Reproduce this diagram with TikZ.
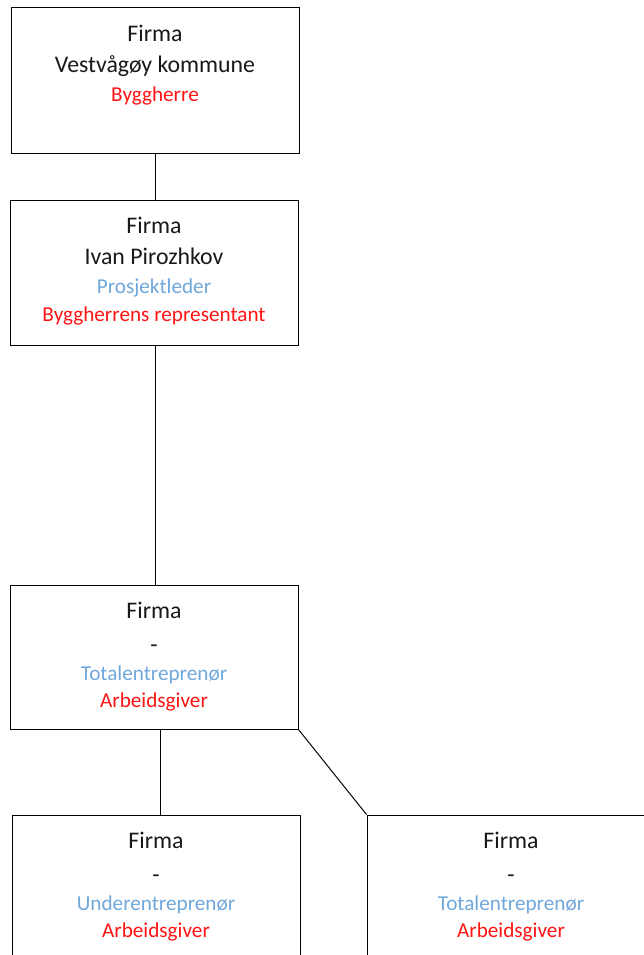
\documentclass[tikz,border=0pt]{standalone}
\usepackage{fontspec}
\setmainfont{Carlito}
\definecolor{rolered}{RGB}{255,20,20}
\definecolor{roleblue}{RGB}{112,168,220}
\tikzset{
  orgbox/.style={draw=black, line width=1pt, rectangle, minimum width=288pt, minimum height=145pt, inner sep=0pt, fill=white},
  conn/.style={draw=black, line width=1pt},
  nametxt/.style={anchor=base, inner sep=0pt, font=\fontsize{23.8}{27}\selectfont, text=black!90},
  bluetxt/.style={anchor=base, inner sep=0pt, font=\fontsize{21.2}{25}\selectfont, text=roleblue},
  redtxt/.style={anchor=base, inner sep=0pt, font=\fontsize{21.2}{25}\selectfont, text=rolered},
}
\begin{document}
\begin{tikzpicture}[x=1pt,y=1pt]
\useasboundingbox (0,0) rectangle (644,-955);
\clip (0,0) rectangle (644,-955);
% boxes
\node[orgbox, minimum height=145.5pt] (b1) at (155.25,-80.25) {};
\node[orgbox, minimum height=144.5pt] (b2) at (154,-272.75) {};
\node[orgbox, minimum width=287.5pt, minimum height=143.5pt] (b3) at (154.25,-657.25) {};
\node[orgbox, minimum height=144pt] (b4) at (156,-887) {};
\node[orgbox, minimum height=144pt] (b5) at (511,-887) {};
% connectors
\draw[conn] ([xshift=-0.25pt]b1.south) -- ([xshift=1pt]b2.north);
\draw[conn] ([xshift=1pt]b2.south) -- ([xshift=0.75pt]b3.north);
\draw[conn] ([xshift=5.75pt]b3.south) -- ([xshift=4pt]b4.north);
\draw[conn] (b3.south east) -- (b5.north west);
% box 1 text
\node[nametxt] (t1a) at (155,-42) {Firma};
\node[nametxt] (t1b) at (155,-73) {Vestvågøy kommune};
\node[redtxt]  (t1c) at (155,-102) {Byggherre};
% box 2 text
\node[nametxt] (t2a) at (154,-233) {Firma};
\node[nametxt] (t2b) at (154,-264) {Ivan Pirozhkov};
\node[bluetxt] (t2c) at (154,-293) {Prosjektleder};
\node[redtxt]  (t2d) at (154,-321) {Byggherrens representant};
% box 3 text
\node[nametxt] (t3a) at (154,-618) {Firma};
\node[nametxt] (t3b) at (154,-652) {-};
\node[bluetxt] (t3c) at (154,-680) {Totalentreprenør};
\node[redtxt]  (t3d) at (154,-707) {Arbeidsgiver};
% box 4 text
\node[nametxt] (t4a) at (156,-848) {Firma};
\node[nametxt] (t4b) at (156,-882) {-};
\node[bluetxt] (t4c) at (156,-910) {Underentreprenør};
\node[redtxt]  (t4d) at (156,-937) {Arbeidsgiver};
% box 5 text
\node[nametxt] (t5a) at (511,-848) {Firma};
\node[nametxt] (t5b) at (511,-882) {-};
\node[bluetxt] (t5c) at (511,-910) {Totalentreprenør};
\node[redtxt]  (t5d) at (511,-937) {Arbeidsgiver};
\end{tikzpicture}
\end{document}
